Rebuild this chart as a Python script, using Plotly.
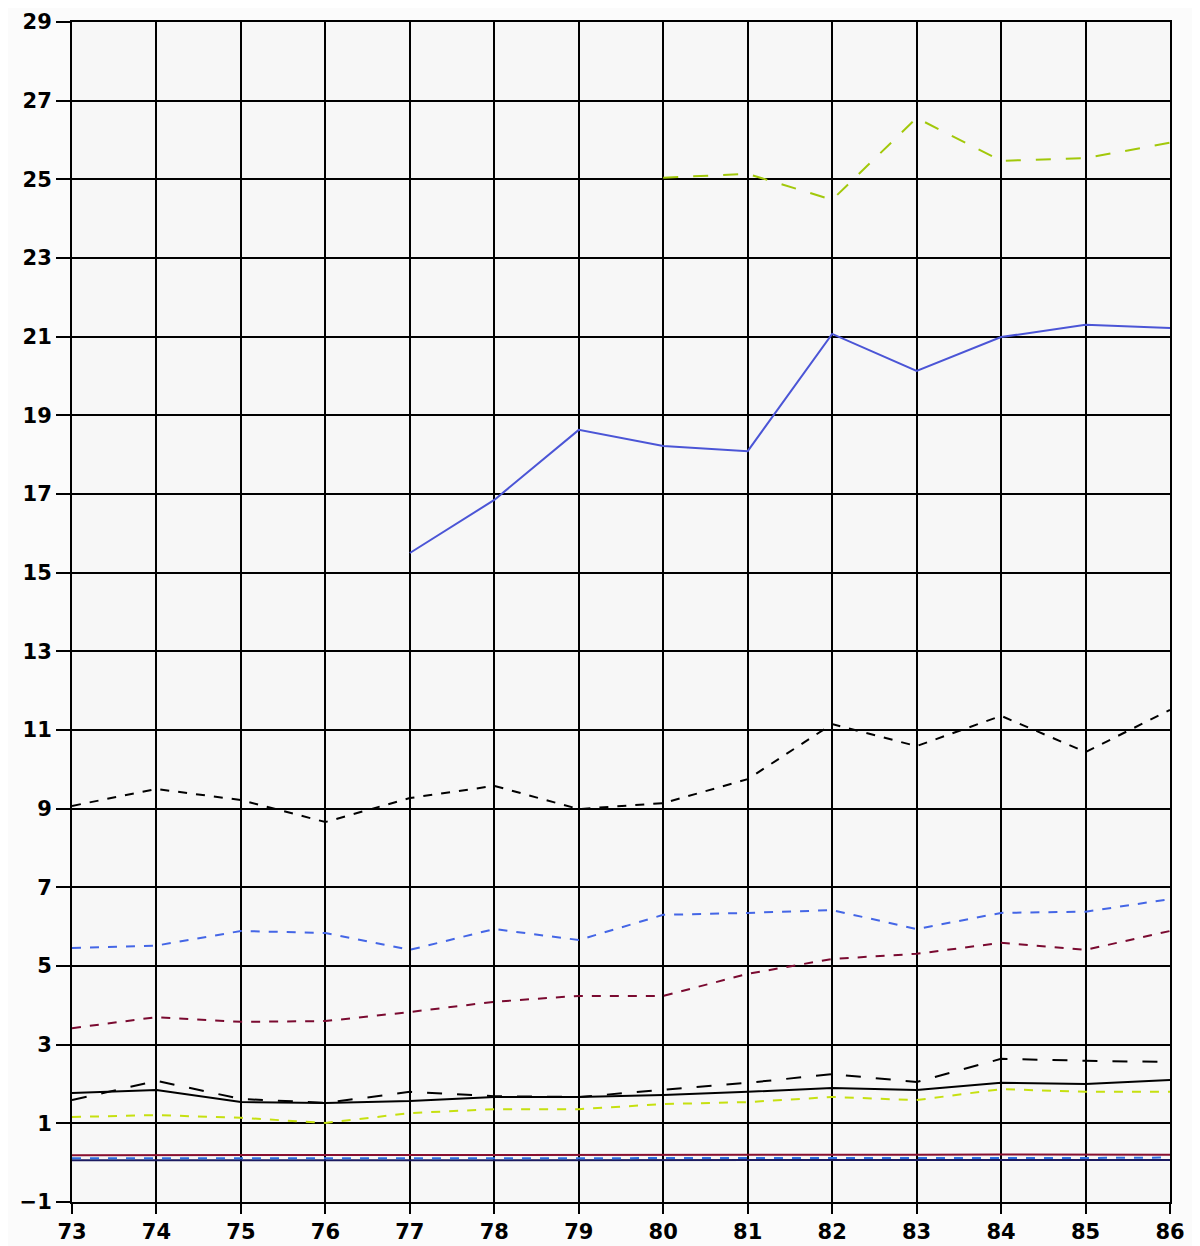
import plotly.graph_objects as go

years_all = [73, 74, 75, 76, 77, 78, 79, 80, 81, 82, 83, 84, 85, 86]
years_77 = [77, 78, 79, 80, 81, 82, 83, 84, 85, 86]
years_80 = [80, 81, 82, 83, 84, 85, 86]

green_top = [25.04, 25.14, 24.48, 26.56, 25.47, 25.54, 25.93]
blue_solid = [15.50, 16.85, 18.63, 18.22, 18.09, 21.07, 20.13, 20.99, 21.30, 21.22]
black_dash = [9.07, 9.50, 9.22, 8.66, 9.27, 9.58, 8.99, 9.14, 9.75, 11.15, 10.59, 11.36, 10.44, 11.51]
blue_dash = [5.46, 5.52, 5.89, 5.84, 5.41, 5.94, 5.66, 6.30, 6.35, 6.42, 5.94, 6.35, 6.38, 6.70]
red_dash = [3.42, 3.70, 3.58, 3.60, 3.83, 4.09, 4.24, 4.24, 4.80, 5.18, 5.31, 5.59, 5.41, 5.89]
black_longdash = [1.59, 2.08, 1.62, 1.52, 1.80, 1.69, 1.67, 1.85, 2.03, 2.25, 2.05, 2.64, 2.59, 2.56]
black_solid = [1.77, 1.85, 1.54, 1.52, 1.57, 1.67, 1.67, 1.72, 1.80, 1.90, 1.85, 2.03, 2.00, 2.10]
yellow_dash = [1.16, 1.21, 1.14, 1.01, 1.26, 1.36, 1.36, 1.49, 1.54, 1.67, 1.59, 1.87, 1.80, 1.80]
red_solid = [0.19, 0.19, 0.19, 0.19, 0.19, 0.19, 0.19, 0.19, 0.19, 0.20, 0.20, 0.21, 0.21, 0.20]
blue_low = [0.11, 0.11, 0.11, 0.11, 0.11, 0.11, 0.11, 0.11, 0.11, 0.12, 0.12, 0.12, 0.12, 0.13]
navy_low = [0.06, 0.06, 0.06, 0.06, 0.06, 0.06, 0.06, 0.06, 0.06, 0.06, 0.06, 0.06, 0.06, 0.07]

y_ticks = [-1, 1, 3, 5, 7, 9, 11, 13, 15, 17, 19, 21, 23, 25, 27, 29]
y_labels = ["−1", "1", "3", "5", "7", "9", "11", "13", "15", "17", "19", "21", "23", "25", "27", "29"]
x_labels = ["73", "74", "75", "76", "77", "78", "79", "80", "81", "82", "83", "84", "85", "86"]

series = [
    (years_all, navy_low, "#1a1a60", "solid"),
    (years_all, blue_low, "#2f6fe0", "dash"),
    (years_all, red_solid, "#8a1030", "solid"),
    (years_all, yellow_dash, "#c6e010", "dash"),
    (years_all, black_solid, "#000000", "solid"),
    (years_all, black_longdash, "#000000", "longdash"),
    (years_all, red_dash, "#7a0a30", "dash"),
    (years_all, blue_dash, "#4466e6", "dash"),
    (years_all, black_dash, "#000000", "dash"),
    (years_77, blue_solid, "#4b55d6", "solid"),
    (years_80, green_top, "#a2c80a", "longdash"),
]

fig = go.Figure()
for xs, ys, col, dash in series:
    fig.add_trace(go.Scatter(x=xs, y=ys, mode="lines",
                             line=dict(color=col, width=2, dash=dash),
                             showlegend=False, hoverinfo="skip"))

font = dict(family="DejaVu Sans, Liberation Sans, sans-serif", size=21, color="#000000")
fig.update_layout(
    width=1200, height=1246,
    margin=dict(l=64, r=38, t=14, b=52, autoexpand=False),
    paper_bgcolor="#fbfbfb", plot_bgcolor="#f7f7f7",
    showlegend=False,
)
fig.update_xaxes(
    range=[73, 86], tickmode="array", tickvals=years_all,
    ticktext=["<b>%s</b>" % t for t in x_labels],
    showgrid=True, gridcolor="#000000", gridwidth=2,
    showline=True, linecolor="#000000", linewidth=2, mirror=True,
    ticks="outside", ticklen=10, tickwidth=2, tickcolor="#000000",
    tickfont=font, zeroline=False, automargin=False,
)
fig.update_yaxes(
    range=[-1, 29], tickmode="array", tickvals=y_ticks,
    ticktext=["<b>%s</b>" % t for t in y_labels],
    showgrid=True, gridcolor="#000000", gridwidth=2,
    showline=True, linecolor="#000000", linewidth=2, mirror=True,
    ticks="outside", ticklen=14, tickwidth=2, tickcolor="#000000",
    tickfont=font, zeroline=False, automargin=False,
)
fig.write_html("out.html")
